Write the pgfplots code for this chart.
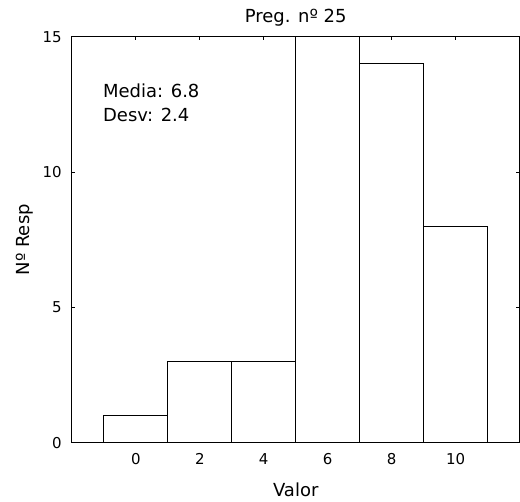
\documentclass[border=0pt]{standalone}
\usepackage{fontspec}
\setmainfont{DejaVu Sans}
\usepackage{pgfplots}
\pgfplotsset{compat=1.18}
\begin{document}
\begin{tikzpicture}
\begin{axis}[
  scale only axis,
  width=448pt, height=406pt,
  xmin=-2, xmax=12, ymin=0, ymax=15,
  xtick={0,2,4,6,8,10},
  ytick={0,5,10,15},
  xtick pos=upper, xticklabel pos=lower,
  ytick pos=both, yticklabel pos=left,
  tick align=inside,
  major tick length=3.5pt,
  axis line style={line width=1pt},
  every tick/.style={line width=1pt, black},
  /pgf/number format/assume math mode=true,
  tick label style={font=\fontsize{15}{17}\selectfont},
  xticklabel style={anchor=base, inner sep=0pt, yshift=-22pt},
  yticklabel style={anchor=east, inner sep=0pt, xshift=-10pt},
  every axis title shift=0pt,
  title={Preg. nº 25},
  title style={font=\fontsize{18}{20}\selectfont, at={(axis description cs:0.5,1)}, anchor=base, inner sep=0pt, yshift=14pt},
  xlabel={Valor},
  ylabel={Nº Resp},
  label style={font=\fontsize{18}{20}\selectfont},
  xlabel style={at={(axis description cs:0.5,0)}, anchor=base, inner sep=0pt, yshift=-54pt},
  ylabel style={at={(axis description cs:0,0.5)}, anchor=base, inner sep=0pt, rotate=0, yshift=42pt},
  clip=false,
]
\addplot[ybar interval, fill=white, draw=black, line width=1pt]
  coordinates {(-1,1) (1,3) (3,3) (5,15) (7,14) (9,8) (11,8)};
\node[anchor=base west, font=\fontsize{18}{20}\selectfont, inner sep=0pt]
  at (axis cs:-1.03,12.75) {Media: 6.8};
\node[anchor=base west, font=\fontsize{18}{20}\selectfont, inner sep=0pt]
  at (axis cs:-1.03,11.86) {Desv: 2.4};
\end{axis}
\useasboundingbox ([xshift=-72pt,yshift=-59pt]current axis.south west) rectangle ([yshift=37pt]current axis.north east);
\end{tikzpicture}
\end{document}
